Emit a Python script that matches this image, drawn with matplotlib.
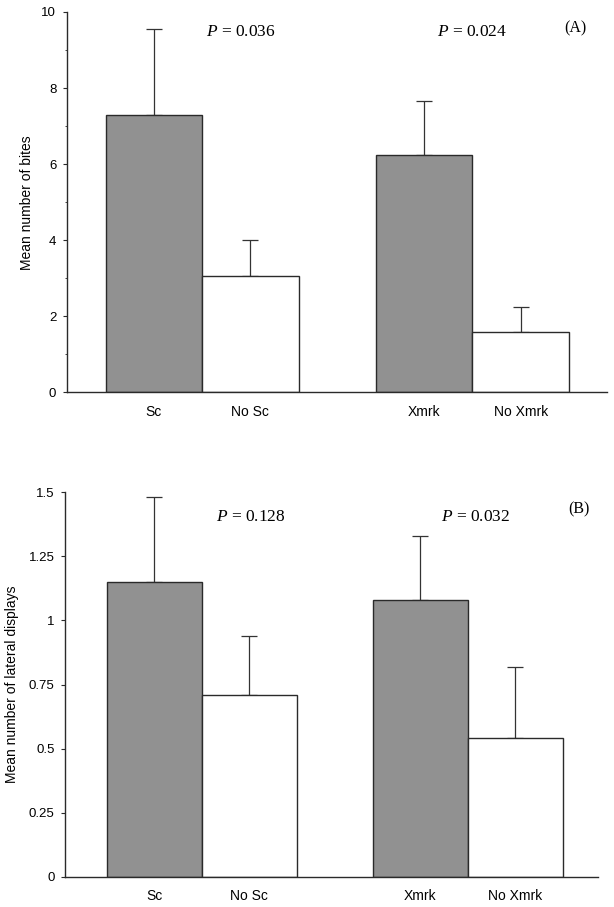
import matplotlib.pyplot as plt
import matplotlib.ticker as tkr

categories = ["Sc", "No Sc", "Xmrk", "No Xmrk"]
positions = [1, 2, 3.8, 4.8]
fills = ["#919191", "white", "#919191", "white"]

bites_mean = [7.3, 3.05, 6.23, 1.58]
bites_upper = [9.54, 4.02, 7.65, 2.25]
bites_p = ["0.036", "0.024"]

displays_mean = [1.15, 0.71, 1.08, 0.54]
displays_upper = [1.48, 0.94, 1.33, 0.82]
displays_p = ["0.128", "0.032"]

sans = "Liberation Sans"
serif = "Liberation Serif"

plt.rcParams["mathtext.fontset"] = "custom"
plt.rcParams["mathtext.rm"] = serif
plt.rcParams["mathtext.it"] = serif + ":italic"


def panel(ax, means, uppers, pvals, tag, ylabel, ymax, yticks, ylabels, p_x, p_y, tag_x, tag_y, xlim, lab_x):
    errs = [u - m for u, m in zip(uppers, means)]
    ax.bar(positions, means, width=1.0, color=fills, edgecolor="#2a2a2a", linewidth=1.0, zorder=2)
    ax.errorbar(positions, means, yerr=[[0] * 4, errs], fmt="none", ecolor="#333333",
                elinewidth=0.9, capsize=5.5, capthick=0.9, zorder=1)
    ax.set_xlim(*xlim)
    ax.set_ylim(0, ymax)
    ax.spines["top"].set_visible(False)
    ax.spines["right"].set_visible(False)
    for s in ["left", "bottom"]:
        ax.spines[s].set_color("#2a2a2a")
        ax.spines[s].set_linewidth(1.0)
    ax.set_yticks(yticks)
    ax.set_yticklabels(ylabels, fontfamily=sans, fontsize=9.5)
    ax.tick_params(axis="y", direction="out", length=3, color="#2a2a2a", pad=4.5)
    ax.tick_params(axis="x", length=0, pad=9)
    ax.set_xticks(positions)
    ax.set_xticklabels(categories, fontfamily=sans, fontsize=10)
    ax.set_ylabel(ylabel, fontfamily=sans, fontsize=10)
    ax.yaxis.set_label_coords(lab_x, 0.5)
    for x, p in zip(p_x, pvals):
        ax.text(x, p_y, "$P$ = " + p, ha="center", va="center",
                fontfamily=serif, fontsize=12.5)
    ax.text(tag_x, tag_y, tag, ha="center", va="center", fontfamily=serif, fontsize=11.5)


fig = plt.figure(figsize=(6.14, 9.07), dpi=100)

ax1 = fig.add_axes([0.1086, 0.5673, 0.880, 0.4195])
panel(ax1, bites_mean, bites_upper, bites_p, "(A)", "Mean number of bites", 10,
      [0, 2, 4, 6, 8, 10], ["0", "2", "4", "6", "8", "10"],
      [1.90, 4.30], 9.48, 5.37, 9.58, (0.096, 5.695), -0.06)
ax1.yaxis.set_minor_locator(tkr.FixedLocator([1, 3, 5, 7, 9]))
ax1.tick_params(axis="y", which="minor", direction="out", length=1.8, color="#2a2a2a")

ax2 = fig.add_axes([0.1059, 0.0334, 0.8687, 0.4238])
panel(ax2, displays_mean, displays_upper, displays_p, "(B)", "Mean number of lateral displays", 1.5,
      [0, 0.25, 0.5, 0.75, 1, 1.25, 1.5], ["0", "0.25", "0.5", "0.75", "1", "1.25", "1.5"],
      [2.015, 4.38], 1.405, 5.47, 1.433, (0.061, 5.676), -0.087)

fig.savefig("out.png", dpi=100)
